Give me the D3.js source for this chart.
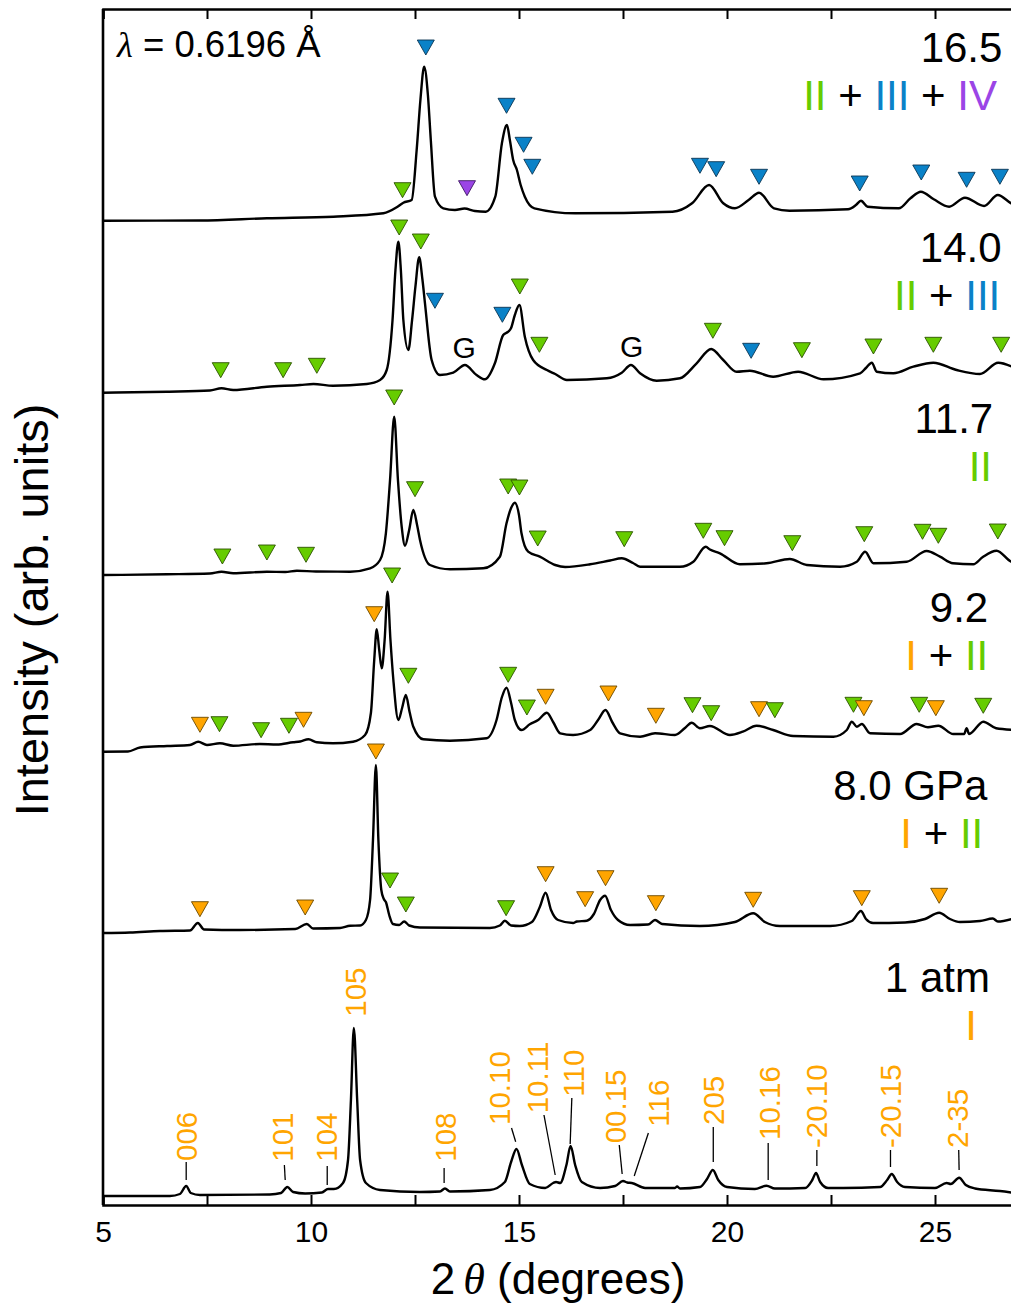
<!DOCTYPE html>
<html><head><meta charset="utf-8">
<script src="https://cdn.jsdelivr.net/npm/d3@7"></script>
<style>body{margin:0;background:#fff} svg{display:block}</style>
</head><body><svg id="c" width="1011" height="1307"></svg>
<script>
// ---------- DATA ----------
const pressureLabels = ["1 atm", "8.0 GPa", "9.2", "11.7", "14.0", "16.5"];
const offsets = [9, 272, 453, 630, 812, 984];           // vertical offset of each pattern (arb. units)
const labelLevels = [204, 133, 130, 142, 131, 159];      // level of pressure label (rel. to offset)
const labelRightTheta = [26.32, 26.26, 26.28, 26.4, 26.6, 26.62];
const phaseRightTheta = [26.01, 26.16, 26.28, 26.37, 26.57, 26.49];
const phaseParts = [
  [["I","I"]],
  [["I","I"],["+",null],["II","II"]],
  [["I","I"],["+",null],["II","II"]],
  [["II","II"]],
  [["II","II"],["+",null],["III","III"]],
  [["II","II"],["+",null],["III","III"],["+",null],["IV","IV"]]
];
const xTicks = [5, 7.5, 10, 12.5, 15, 17.5, 20, 22.5, 25];
const xTickLabels = ["5", "", "10", "", "15", "", "20", "", "25"];

const pattern_1atm = [[5.0,0],[6.61,0],[6.85,2],[7.0,10],[7.11,3],[7.33,1],[9.01,1.5],[9.28,3],[9.43,9],[9.57,4],[9.86,2.5],[10.26,3.5],[10.41,7],[10.55,7],[10.77,13],[10.89,36],[10.96,96],[11.03,168],[11.11,96],[11.18,36],[11.32,13],[11.66,6],[12.62,4],[13.1,4.5],[13.22,7.5],[13.34,4.5],[14.3,6],[14.66,14],[14.81,34],[14.94,47],[15.07,31],[15.26,12],[15.63,8],[15.82,13],[15.89,14],[15.99,13],[16.14,31],[16.24,50],[16.35,31],[16.51,14],[16.95,8],[17.31,10],[17.5,15],[17.6,13.5],[17.71,13],[18.03,8],[18.75,8],[18.8,9.5],[18.87,7.5],[19.35,9],[19.52,17],[19.66,26],[19.79,16],[20.0,9],[20.67,7],[20.95,10.3],[21.15,7.5],[21.88,8],[22.05,16],[22.14,23],[22.24,14],[22.43,8],[22.79,8],[23.68,9],[23.85,16],[23.96,22],[24.09,14],[24.28,9],[25.0,8],[25.28,13],[25.38,12],[25.58,18.3],[25.74,11],[25.96,7.5],[26.56,5],[26.92,3]];
const pattern_8_0 = [[5.0,0],[5.65,0.5],[6.37,2],[7.09,2.5],[7.28,10],[7.43,3.5],[8.29,3],[9.62,4],[9.9,9],[10.05,4.5],[10.7,5],[10.94,7.3],[11.18,7.5],[11.32,13],[11.42,33],[11.49,93],[11.56,168],[11.62,93],[11.69,43],[11.75,34],[11.8,31],[11.88,18],[11.97,9],[12.12,8],[12.24,11.5],[12.36,7.5],[12.62,5.5],[14.3,5],[14.54,7.5],[14.66,12.3],[14.81,7.5],[15.02,7],[15.31,11],[15.5,26],[15.64,40.3],[15.77,23],[15.94,13],[16.3,10],[16.39,11.5],[16.63,12.3],[16.8,19],[16.95,33],[17.07,37.3],[17.21,23],[17.38,13],[17.67,8],[18.1,8.5],[18.27,13],[18.44,9],[19.35,7],[20.19,11],[20.63,19.7],[20.91,11],[21.27,7],[22.48,7],[23.0,12],[23.22,22],[23.34,14],[23.51,10],[24.28,10.5],[24.76,14],[25.1,20.3],[25.36,14],[25.6,11],[26.08,12],[26.39,14.5],[26.51,11.5],[26.92,15]];
const pattern_9_2 = [[5.0,0.3],[5.6,0.5],[5.89,4.5],[6.54,6],[7.09,7],[7.29,10.3],[7.5,7],[7.81,8.7],[8.13,6.3],[8.77,8],[9.18,7.5],[9.57,9.7],[9.74,10.5],[9.94,12.7],[10.14,9.7],[10.53,8.7],[11.01,10.3],[11.3,17],[11.44,39],[11.52,92],[11.58,122.7],[11.64,102],[11.7,83.7],[11.77,112],[11.84,160.3],[11.91,112],[11.98,72],[12.1,32],[12.19,44],[12.28,57],[12.37,40],[12.46,25.3],[12.7,12.7],[13.34,11.3],[14.22,13.7],[14.46,32],[14.59,55],[14.7,64.3],[14.81,49],[14.9,32],[15.06,22],[15.26,27.7],[15.46,32],[15.67,39.3],[15.82,30],[15.99,18.7],[16.3,17],[16.71,22],[16.9,32],[17.08,42],[17.24,30],[17.43,18.7],[17.91,15.3],[18.27,18.7],[18.75,17],[18.99,24],[19.15,29.3],[19.35,23.7],[19.59,26],[20.07,17],[20.38,20.3],[20.71,26.3],[21.11,22],[21.59,16],[22.56,15.3],[22.88,22],[23.0,30.3],[23.12,25.3],[23.24,28],[23.44,18.7],[24.16,18],[24.56,28],[24.83,24.7],[25.08,26.3],[25.44,18],[25.7,18],[25.76,23.7],[25.82,18],[26.16,30.3],[26.47,23.7],[26.92,22]];
const pattern_11_7 = [[5.0,0],[6.54,0.7],[7.57,1.5],[7.85,3.3],[8.13,1.7],[8.94,3.3],[9.38,3],[9.66,4.3],[10.12,3.5],[10.94,3.3],[11.42,6.7],[11.66,15],[11.8,41.7],[11.9,95],[12.0,158.3],[12.09,95],[12.18,48.3],[12.26,29.3],[12.36,45],[12.46,65],[12.55,50],[12.62,35],[12.86,10],[13.34,5.7],[14.14,6.7],[14.54,18.3],[14.7,51.7],[14.81,67],[14.9,72.3],[15.0,60],[15.06,41.7],[15.22,23.3],[15.5,18.3],[15.87,10],[16.11,8],[16.71,10.7],[17.19,14.5],[17.47,16.7],[17.74,12],[17.91,8.3],[18.87,8.3],[19.19,13.3],[19.49,28.3],[19.59,25.5],[19.83,21.7],[20.31,10.7],[20.95,11.7],[21.51,16],[21.92,10],[22.72,8.3],[23.12,13.3],[23.32,23.3],[23.52,11.7],[24.32,13.3],[24.8,24],[25.12,18.3],[25.43,11.7],[25.92,10.7],[26.15,18],[26.48,24.3],[26.83,13.3],[26.92,12]];
const pattern_14_0 = [[5.0,0.3],[6.54,1.3],[7.57,2.5],[7.85,4.7],[8.13,3],[8.94,6.3],[9.74,8],[10.06,9],[10.53,7.3],[11.34,9],[11.66,13],[11.82,23],[11.96,73],[12.03,123],[12.1,151.3],[12.16,123],[12.22,73],[12.34,43],[12.43,73],[12.51,106.3],[12.6,135.7],[12.68,113],[12.74,89.7],[12.9,33],[13.1,18],[13.42,20.3],[13.7,28],[13.98,18],[14.18,13.7],[14.42,29.7],[14.62,58],[14.74,61.3],[14.81,65],[14.9,78],[15.01,88],[15.14,56.3],[15.34,33],[15.67,23],[15.87,19],[16.15,13],[17.11,14.7],[17.47,20.3],[17.69,28],[17.91,19.7],[18.31,12.3],[18.87,14.7],[19.27,29.7],[19.62,44],[19.91,33],[20.23,21.3],[20.55,22.3],[21.11,16.3],[21.71,21.3],[22.32,13.7],[23.2,19.7],[23.34,25],[23.48,30.3],[23.6,21.3],[24.0,19.7],[24.48,26.3],[24.96,30.3],[25.52,23],[26.08,19],[26.52,30.3],[26.92,25]];
const pattern_16_5 = [[5.0,0.3],[7.33,0.5],[8.94,2.7],[10.54,4.3],[11.74,7.7],[12.06,13.7],[12.22,18.3],[12.42,21],[12.54,71],[12.63,121],[12.72,154.3],[12.81,126],[12.88,81],[12.98,24.3],[13.18,12.7],[13.46,11],[13.69,12.5],[13.94,10],[14.2,9.3],[14.43,24.3],[14.59,78],[14.71,96],[14.78,81],[14.86,61],[14.95,51],[15.04,36],[15.14,24.3],[15.37,12.7],[16.35,7.7],[18.69,9.3],[19.16,17.7],[19.57,36],[19.91,17.7],[20.19,12.7],[20.52,21],[20.77,28.3],[21.13,12.7],[21.5,10.3],[22.91,11.7],[23.1,16],[23.22,20.3],[23.38,14.3],[24.13,12.7],[24.41,22.7],[24.66,29.3],[24.97,21.7],[25.34,14.3],[25.72,23.3],[26.18,15],[26.51,26],[26.83,17.7],[26.92,16]];
const patterns = [pattern_1atm, pattern_8_0, pattern_9_2, pattern_11_7, pattern_14_0, pattern_16_5];

// markers: [phase, 2theta, level of triangle top (rel. to offset)]
const markers_8_0 = [["I",7.33,31.3],["I",9.86,33],["I",11.56,189],["II",11.9,60],["II",12.28,36],["II",14.69,32.3],["I",15.64,66.3],["I",16.59,41.3],["I",17.08,62.3],["I",18.29,37.3],["I",20.63,40.7],["I",23.24,42.3],["I",25.1,44.7]];
const markers_9_2 = [["I",7.33,34.7],["II",7.8,35.3],["II",8.8,29.3],["II",9.47,33.7],["I",9.82,39.7],["I",11.52,145.3],["II",11.95,184],["II",12.34,83.7],["II",14.74,84.7],["II",15.19,52],["I",15.64,62.7],["I",17.15,66],["I",18.29,43.7],["II",19.17,54.3],["II",19.62,46.3],["I",20.77,50.3],["II",21.15,49.3],["II",23.04,54.7],["I",23.29,51.3],["II",24.62,54.7],["I",25.02,51.3],["II",26.16,53.7]];
const markers_11_7 = [["II",7.87,26],["II",8.94,30],["II",9.88,27.7],["II",12.0,185],["II",12.5,93.3],["II",14.74,96],["II",15.01,95],["II",15.45,44],["II",17.53,43.3],["II",19.43,51.7],["II",19.94,44.3],["II",21.57,39.3],["II",23.3,48.3],["II",24.7,50.7],["II",25.08,46.7],["II",26.51,51]];
const markers_14_0 = [["II",7.83,30.3],["II",9.33,30.3],["II",10.14,34.7],["II",12.12,173],["II",12.64,159],["III",12.98,99.7],["III",14.6,85.7],["II",15.02,114],["II",15.49,55.7],["II",19.66,69.7],["III",20.58,49.7],["II",21.8,50.3],["II",23.52,54],["II",24.96,55.7],["II",26.59,55.7]];
const markers_16_5 = [["II",12.2,38.3],["III",12.76,181],["IV",13.75,40.3],["III",14.7,122.7],["III",15.11,83.7],["III",15.32,61.7],["III",19.35,62.7],["III",19.74,59.3],["III",20.77,51.7],["III",23.19,45],["III",24.67,56],["III",25.76,48.7],["III",26.56,51.7]];
const markerSets = [[], markers_8_0, markers_9_2, markers_11_7, markers_14_0, markers_16_5];

// gasket peaks in 14.0 GPa pattern: [2theta, level]
const gasketLabels = [[13.68,35],[17.71,36.3]];

// Miller indices of phase I at 1 atm: [label, 2theta, label-bottom level, leader top (2theta, level), leader bottom (2theta, level)]
const hklLabels = [
  ["006",7.0,35,7.0,34,7.0,16],
  ["101",9.32,34.3,9.36,31,9.38,16],
  ["104",10.36,34.3,10.39,30,10.39,11],
  ["105",11.06,179.3,null,null,null,null],
  ["108",13.22,34.3,13.2,28,13.2,13],
  ["10.10",14.54,71,14.82,68,14.92,54.3],
  ["10.11",15.43,82.7,15.6,81,15.87,21],
  ["110",16.3,99.3,16.27,98,16.23,52],
  ["00.15",17.31,52.7,17.41,51,17.48,22],
  ["116",18.34,69.3,18.11,63,17.77,20],
  ["205",19.68,71,19.67,69,19.67,34],
  ["10.16",21.01,56,20.99,53,20.99,16],
  ["-20.10",22.16,48,22.16,46,22.16,30],
  ["-20.15",23.92,48,23.93,46,23.93,29],
  ["2-35",25.53,48,25.57,46,25.58,26]
];

const phaseColors = {I: "#FFA500", II: "#66CC00", III: "#0A82C8", IV: "#9B45E6"};
const phaseStroke = {I: "#6b4a00", II: "#2d5200", III: "#0b3552", IV: "#3e1a63"};

// ---------- DRAW ----------
const svg = d3.select("#c");
const font = "'Liberation Sans', Arial, Helvetica, sans-serif";
const serif = "'Liberation Serif', 'Times New Roman', serif";
const x = d3.scaleLinear().domain([5, 27]).range([103, 103 + 22 * 41.6]);
const y = d3.scaleLinear().domain([0, 1196]).range([1205, 9]);

const line = d3.line().x(d => x(d[0])).y(d => y(d[1])).curve(d3.curveMonotoneX);

// spectra
patterns.forEach((p, i) => {
  svg.append("path")
    .datum(p.map(d => [d[0], d[1] + offsets[i]]))
    .attr("d", line)
    .attr("fill", "none").attr("stroke", "#000").attr("stroke-width", 2.4)
    .attr("stroke-linejoin", "round");
});

// triangles
const triW = 17, triH = 15;
markerSets.forEach((set, i) => {
  const sorted = set.slice().sort((a, b) => a[1] - b[1]);
  svg.append("g").selectAll("path").data(sorted).join("path")
    .attr("d", d => {
      const cx = x(d[1]), ty = y(d[2] + offsets[i]);
      return `M${cx - triW/2},${ty}L${cx + triW/2},${ty}L${cx},${ty + triH}Z`;
    })
    .attr("fill", d => phaseColors[d[0]])
    .attr("stroke", d => phaseStroke[d[0]]).attr("stroke-width", 0.9)
    .attr("stroke-linejoin", "miter");
});

// G labels
svg.append("g").selectAll("text").data(gasketLabels).join("text")
  .attr("x", d => x(d[0])).attr("y", d => y(d[1] + offsets[4]))
  .attr("text-anchor", "middle").attr("font-family", font).attr("font-size", 30)
  .text("G");

// hkl labels
const hk = svg.append("g");
hklLabels.forEach(d => {
  const lx = x(d[1]), ly = y(d[2] + offsets[0]);
  hk.append("text")
    .attr("transform", `translate(${lx},${ly}) rotate(-90)`)
    .attr("dy", "0.36em")
    .attr("font-family", font).attr("font-size", 29.5).attr("fill", phaseColors.I)
    .text(d[0]);
  if (d[3] !== null) {
    hk.append("line")
      .attr("x1", x(d[3])).attr("y1", y(d[4] + offsets[0]))
      .attr("x2", x(d[5])).attr("y2", y(d[6] + offsets[0]))
      .attr("stroke", "#000").attr("stroke-width", 1.3);
  }
});

// pressure + phase labels
pressureLabels.forEach((t, i) => {
  const by = y(labelLevels[i] + offsets[i]);
  svg.append("text").attr("x", x(labelRightTheta[i])).attr("y", by)
    .attr("text-anchor", "end").attr("font-family", font).attr("font-size", 42)
    .text(t);
  const pt = svg.append("text").attr("x", x(phaseRightTheta[i])).attr("y", by + 48)
    .attr("text-anchor", "end").attr("font-family", font).attr("font-size", 42);
  phaseParts[i].forEach((part, k) => {
    pt.append("tspan").attr("fill", part[1] ? phaseColors[part[1]] : "#000")
      .text((k > 0 ? " " : "") + part[0]);
  });
});

// wavelength
const lam = svg.append("text").attr("x", 117).attr("y", 57)
  .attr("font-family", font).attr("font-size", 36.5);
lam.append("tspan").attr("font-family", serif).attr("font-style", "italic").text("λ");
lam.append("tspan").text(" = 0.6196 Å");

// axes
const xb = d3.axisBottom(x).tickValues(xTicks).tickSize(-10).tickPadding(16)
  .tickFormat((d, i) => xTickLabels[i]);
const xt = d3.axisTop(x).tickValues(xTicks).tickSize(-10).tickFormat("");
const gb = svg.append("g").attr("transform", "translate(0,1205)").call(xb);
const gt = svg.append("g").attr("transform", "translate(0,9)").call(xt);
[gb, gt].forEach(g => {
  g.select(".domain").attr("stroke-width", 2.6).attr("stroke", "#000");
  g.selectAll(".tick line").attr("stroke-width", 2).attr("stroke", "#000");
  g.selectAll(".tick text").attr("font-family", font).attr("font-size", 30).attr("fill", "#000");
});
svg.append("line").attr("x1", 103).attr("x2", 103).attr("y1", 9).attr("y2", 1205)
  .attr("stroke", "#000").attr("stroke-width", 2.6);

// axis titles
const xtitle = svg.append("text").attr("x", 558).attr("y", 1294)
  .attr("text-anchor", "middle").attr("font-family", font).attr("font-size", 44);
xtitle.append("tspan").text("2");
xtitle.append("tspan").attr("font-family", serif).attr("font-style", "italic").attr("dx", 8).text("θ");
xtitle.append("tspan").text(" (degrees)");

svg.append("text").attr("transform", "translate(48,610) rotate(-90)")
  .attr("text-anchor", "middle").attr("font-family", font).attr("font-size", 47)
  .text("Intensity (arb. units)");
</script>
</body></html>
